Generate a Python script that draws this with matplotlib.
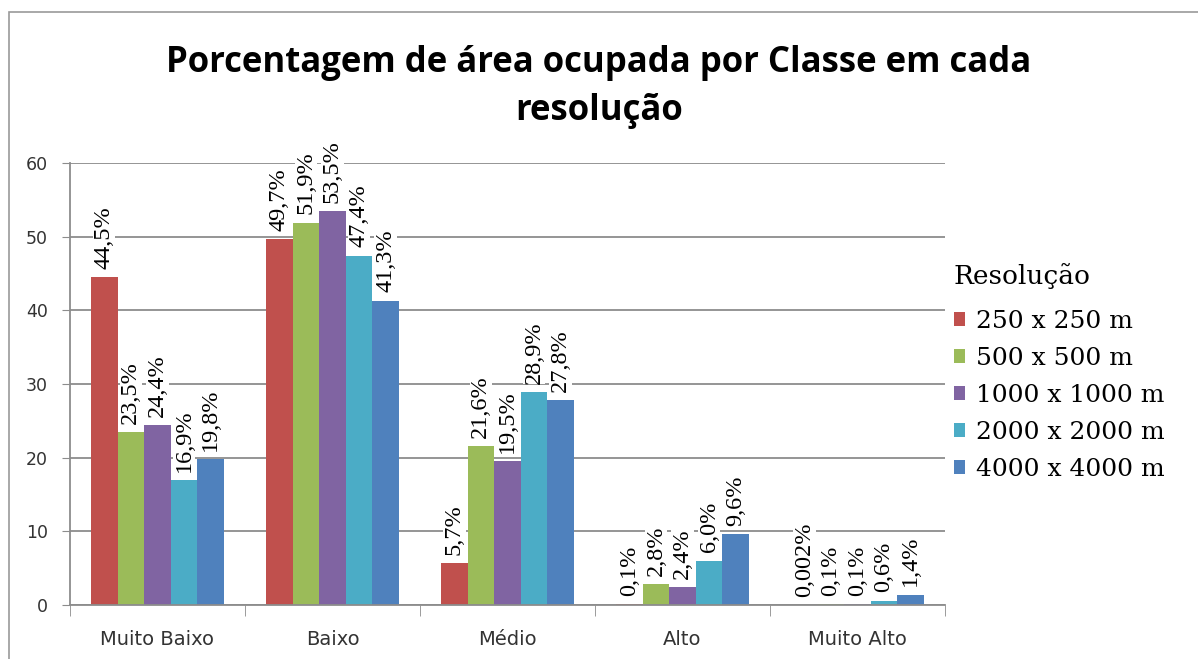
import matplotlib
matplotlib.use("Agg")
import matplotlib.pyplot as plt
import numpy as np
from matplotlib.patches import Rectangle

classes = ["Muito Baixo", "Baixo", "Médio", "Alto", "Muito Alto"]
resolutions = ["250 x 250 m", "500 x 500 m", "1000 x 1000 m",
               "2000 x 2000 m", "4000 x 4000 m"]

# percentage of area per class, one list per resolution
res_250 = [44.5, 49.7, 5.7, 0.1, 0.002]
res_500 = [23.5, 51.9, 21.6, 2.8, 0.1]
res_1000 = [24.4, 53.5, 19.5, 2.4, 0.1]
res_2000 = [16.9, 47.4, 28.9, 6.0, 0.6]
res_4000 = [19.8, 41.3, 27.8, 9.6, 1.4]
series = [res_250, res_500, res_1000, res_2000, res_4000]

colors = ["#C0504D", "#9BBB59", "#8064A2", "#4BACC6", "#4F81BD"]
grid_color = "#8C8C8C"


def pct_label(v):
    txt = f"{v:.3f}" if v < 0.01 else f"{v:.1f}"
    return txt.replace(".", ",") + "%"


fig = plt.figure(figsize=(11.98, 6.59), dpi=100)
ax = fig.add_axes([0.0584, 0.082, 0.7304, 0.6707])

# outer chart border (only top and left edges are visible)
fig.add_artist(Rectangle((9 / 1198, -0.1), 1.2, 1 - 12 / 659 + 0.1,
                         transform=fig.transFigure, fill=False,
                         edgecolor="#9A9A9A", linewidth=1.2))

x = np.arange(len(classes))
width = 0.152
offsets = (np.arange(len(series)) - 2) * width

for vals, off, col, name in zip(series, offsets, colors, resolutions):
    bars = ax.bar(x + off, vals, width, color=col, label=name, zorder=2,
                  linewidth=0)
    for b, v in zip(bars, vals):
        ax.annotate(pct_label(v), (b.get_x() + b.get_width() / 2, v),
                    xytext=(0, 6), textcoords="offset points",
                    rotation=90, ha="center", va="bottom",
                    family="Liberation Serif", fontsize=17.5, zorder=4,
                    bbox=dict(facecolor="white", edgecolor="none", pad=0.5))

ax.set_xlim(-0.5, len(classes) - 0.5)
ax.set_ylim(0, 60)
ax.set_yticks(range(0, 61, 10))
ax.yaxis.grid(True, color=grid_color, linewidth=1.3, zorder=0)
ax.set_axisbelow(True)

ax.set_xticks(x)
ax.set_xticklabels(classes, fontsize=14, color="#333333")
ax.set_xticks(np.arange(-0.5, len(classes)), minor=True)
ax.tick_params(axis="x", which="major", length=0, pad=18)
ax.tick_params(axis="x", which="minor", length=8, color=grid_color)
ax.tick_params(axis="y", length=6, color=grid_color, labelsize=12.5,
               labelcolor="#333333", pad=10)

for side in ["top", "right"]:
    ax.spines[side].set_visible(False)
for side in ["left", "bottom"]:
    ax.spines[side].set_color(grid_color)
    ax.spines[side].set_linewidth(1.3)

fig.text(0.5, 1 - 87 / 659,
         "Porcentagem de área ocupada por Classe em cada\nresolução",
         ha="center", va="center", fontsize=25, fontweight="bold",
         family="Open Sans", linespacing=1.45)

leg = fig.legend(loc="upper left", bbox_to_anchor=(941 / 1198, 1 - 250 / 659),
                 title="Resolução", frameon=False,
                 prop={"family": "DejaVu Serif", "size": 18},
                 title_fontproperties={"family": "DejaVu Serif", "size": 19},
                 handlelength=0.45, handleheight=0.45, handletextpad=0.45,
                 labelspacing=0.56, borderpad=0)
leg._legend_box.align = "left"
# a little more room between the legend title and the first entry
leg._legend_box.sep = 15.5

plt.savefig("out.png", dpi=100)
plt.close()
